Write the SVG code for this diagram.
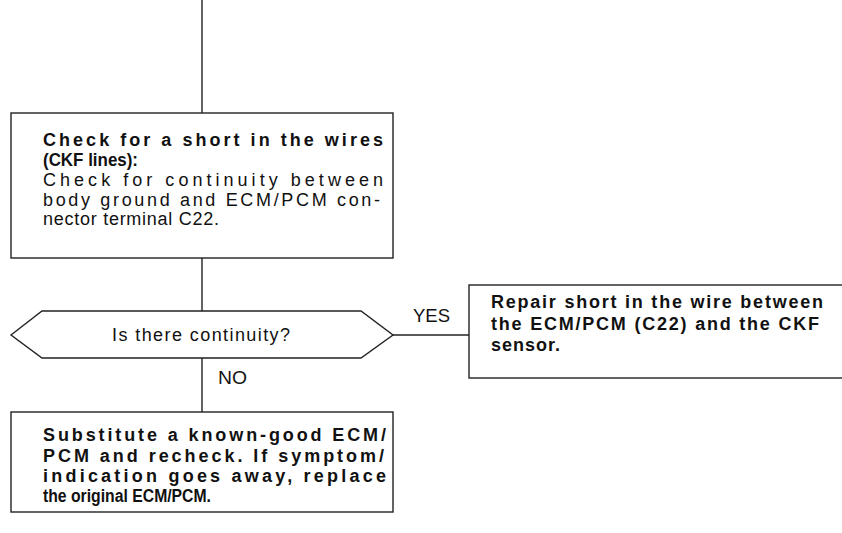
<svg xmlns="http://www.w3.org/2000/svg" width="842" height="533" viewBox="0 0 842 533">
<style>
.box{fill:#fff;stroke:#222;stroke-width:1.4}
.ln{fill:none;stroke:#222;stroke-width:1.4}
.b{font-family:"Liberation Sans",Arial,sans-serif;font-weight:bold;font-size:18px;fill:#111}
.r{font-family:"Liberation Sans",Arial,sans-serif;font-size:18px;fill:#111}
.lbl{font-family:"Liberation Sans",Arial,sans-serif;font-size:18px;fill:#111}
</style>
<rect width="842" height="533" fill="#fff"/>
<g id="connectors">
<line class="ln" x1="202" y1="0" x2="202" y2="113"/>
<line class="ln" x1="202" y1="258" x2="202" y2="311"/>
<line class="ln" x1="202" y1="358" x2="202" y2="412"/>
<line class="ln" x1="393" y1="335" x2="469" y2="335"/>
<text class="lbl" x="413" y="322" textLength="37" lengthAdjust="spacingAndGlyphs">YES</text>
<text class="lbl" x="218" y="384" textLength="29" lengthAdjust="spacingAndGlyphs">NO</text>
</g>
<g id="check-short">
<rect class="box" x="11" y="113" width="382" height="145"/>
<text class="b" x="43" y="146" textLength="340" lengthAdjust="spacing">Check for a short in the wires</text>
<text class="b" x="43" y="166" textLength="95" lengthAdjust="spacingAndGlyphs">(CKF lines):</text>
<text class="r" x="43" y="186" textLength="340" lengthAdjust="spacing">Check for continuity between</text>
<text class="r" x="43" y="206" textLength="337" lengthAdjust="spacing">body ground and ECM/PCM con-</text>
<text class="r" x="43" y="225" textLength="176" lengthAdjust="spacing">nector terminal C22.</text>
</g>
<g id="decision">
<polygon class="box" points="11,335 42,311 361,311 393,335 361,358 42,358"/>
<text class="lbl" x="112" y="341" textLength="178" lengthAdjust="spacing">Is there continuity?</text>
</g>
<g id="repair">
<rect class="box" x="469" y="285" width="380" height="93"/>
<text class="b" x="491" y="308" textLength="332" lengthAdjust="spacing">Repair short in the wire between</text>
<text class="b" x="491" y="330" textLength="328" lengthAdjust="spacing">the ECM/PCM (C22) and the CKF</text>
<text class="b" x="491" y="351" textLength="69" lengthAdjust="spacing">sensor.</text>
</g>
<g id="substitute">
<rect class="box" x="11" y="412" width="382" height="100"/>
<text class="b" x="43" y="441" textLength="343" lengthAdjust="spacing">Substitute a known-good ECM/</text>
<text class="b" x="43" y="462" textLength="341" lengthAdjust="spacing">PCM and recheck. If symptom/</text>
<text class="b" x="43" y="482" textLength="343" lengthAdjust="spacing">indication goes away, replace</text>
<text class="b" x="43" y="502" textLength="168" lengthAdjust="spacingAndGlyphs">the original ECM/PCM.</text>
</g>
</svg>
